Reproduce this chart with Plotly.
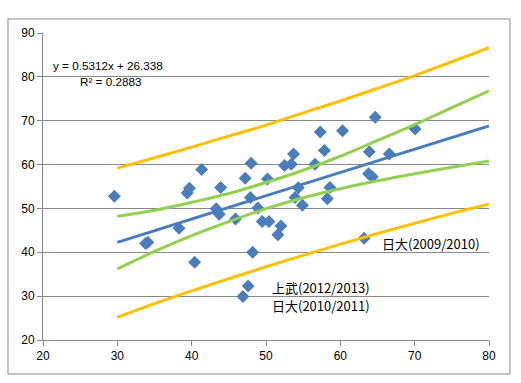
import plotly.graph_objects as go

# Scatter data
pts_x = [29.6, 33.8, 34.1, 38.3, 40.4, 39.4, 39.7, 41.35, 43.9, 43.3, 43.7, 45.9,
         47.9, 48.2, 47.6, 46.9, 48.0, 47.2, 50.2, 48.9, 52.5, 53.4, 53.7, 54.35,
         53.9, 54.9, 56.6, 57.3, 57.85, 60.3, 58.6, 58.25, 64.7, 70.05, 63.9, 66.6,
         63.8, 64.3, 63.2, 49.5, 50.4, 52.0, 51.6]
pts_y = [52.8, 42.0, 42.3, 45.5, 37.7, 53.5, 54.6, 58.9, 54.8, 49.9, 48.7, 47.6,
         52.5, 40.0, 32.3, 29.9, 60.3, 56.9, 56.7, 50.1, 59.8, 60.1, 62.4, 54.7,
         52.5, 50.7, 60.1, 67.4, 63.2, 67.7, 54.8, 52.2, 70.8, 68.1, 62.9, 62.4,
         57.9, 57.2, 43.2, 47.0, 47.0, 46.0, 44.0]

# Linear trend line end points
trend_x = [30, 80]
trend_y = [42.27, 68.83]

# Band curves
band_x = [30, 35, 40, 45, 50, 55, 60, 65, 70, 75, 80]
conf_upper = [48.2, 49.6, 51.4, 53.4, 55.9, 58.7, 61.9, 65.5, 69.1, 73.0, 76.8]
conf_lower = [36.2, 40.2, 43.8, 47.0, 49.95, 52.45, 54.5, 56.3, 57.9, 59.4, 60.8]
pred_upper = [59.2, 61.55, 63.97, 66.49, 69.0, 71.79, 74.5, 77.4, 80.3, 83.45, 86.65]
pred_lower = [25.2, 28.31, 31.21, 33.99, 36.7, 39.31, 41.85, 44.28, 46.62, 48.88, 50.95]

# Axis ticks
x_ticks = [20, 30, 40, 50, 60, 70, 80]
y_ticks = [20, 30, 40, 50, 60, 70, 80, 90]

# Text labels
labels_text = ["日大(2009/2010)", "上武(2012/2013)", "日大(2010/2011)"]
labels_x = [65.3, 50.5, 50.5]
labels_y = [41.9, 31.9, 27.8]

BLUE = "#4A7EBB"
GREEN = "#92D050"
ORANGE = "#FFC000"
GRID = "#878787"

fig = go.Figure()
fig.add_trace(go.Scatter(x=pts_x, y=pts_y, mode="markers",
                         marker=dict(symbol="diamond", size=10, color=BLUE,
                                     line=dict(width=0)),
                         hoverinfo="skip"))
for yy, col in [(pred_upper, ORANGE), (pred_lower, ORANGE),
                (conf_upper, GREEN), (conf_lower, GREEN)]:
    fig.add_trace(go.Scatter(x=band_x, y=yy, mode="lines", line_shape="spline",
                             line=dict(color=col, width=3), hoverinfo="skip"))
fig.add_trace(go.Scatter(x=trend_x, y=trend_y, mode="lines",
                         line=dict(color=BLUE, width=3), hoverinfo="skip"))

annos = [
    dict(x=0.018, y=0.895, xref="paper", yref="paper", text="y = 0.5312x + 26.338",
         showarrow=False, xanchor="left", yanchor="middle",
         font=dict(size=11.7, color="black", family="Liberation Sans, Arial")),
    dict(x=0.078, y=0.843, xref="paper", yref="paper", text="R² = 0.2883",
         showarrow=False, xanchor="left", yanchor="middle",
         font=dict(size=11.7, color="black", family="Liberation Sans, Arial")),
]
for t, lx, ly in zip(labels_text, labels_x, labels_y):
    annos.append(dict(x=lx, y=ly, xref="x", yref="y", text=t, showarrow=False,
                      xanchor="left", yanchor="middle",
                      font=dict(size=13, color="black",
                                family="Noto Sans CJK JP, Liberation Sans")))

fig.update_layout(
    width=521, height=383,
    margin=dict(l=43, r=32, t=33, b=43, autoexpand=False),
    paper_bgcolor="white", plot_bgcolor="white",
    showlegend=False,
    font=dict(family="Liberation Sans, Arial", size=12, color="black"),
    annotations=annos,
    shapes=[dict(type="rect", xref="paper", yref="paper",
                 x0=-0.0785, x1=1.047, y0=-0.1107, y1=1.0456,
                 line=dict(color=GRID, width=1), fillcolor="rgba(0,0,0,0)",
                 layer="below")],
)
fig.update_xaxes(range=[20, 80], tickvals=x_ticks, showgrid=False, zeroline=False,
                 showline=True, linecolor=GRID, linewidth=1,
                 ticks="outside", ticklen=5, tickcolor=GRID,
                 tickfont=dict(size=12, color="black"))
fig.update_yaxes(range=[20, 90], tickvals=y_ticks, showgrid=True, gridcolor=GRID,
                 gridwidth=1, zeroline=False,
                 showline=True, linecolor=GRID, linewidth=1,
                 ticks="outside", ticklen=5, tickcolor=GRID,
                 tickfont=dict(size=12, color="black"))

fig.write_html("out.html", config={"displayModeBar": False},
               post_script="document.body.style.margin='0';document.body.style.padding='0';")
